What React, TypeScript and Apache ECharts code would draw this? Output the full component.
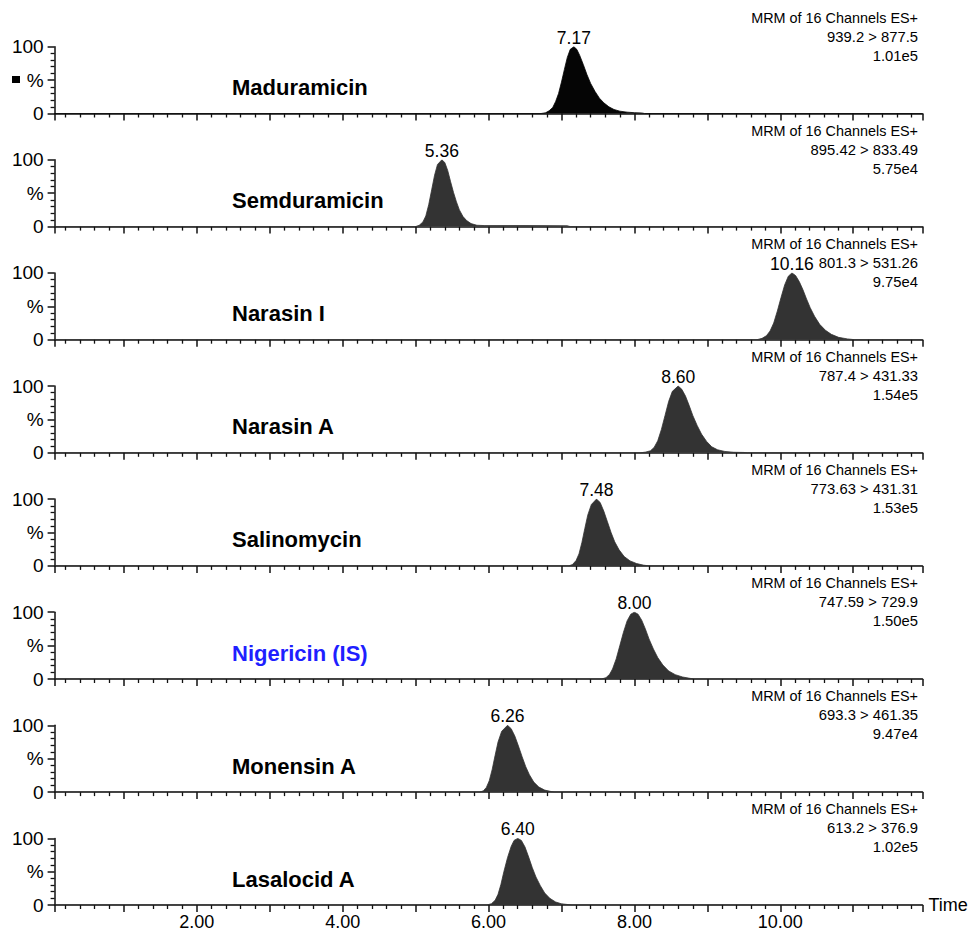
import React, { useEffect, useRef } from 'react';
import * as echarts from 'echarts';

// ---------- data ----------
const compounds = ['Maduramicin', 'Semduramicin', 'Narasin I', 'Narasin A', 'Salinomycin', 'Nigericin (IS)', 'Monensin A', 'Lasalocid A'];
const channelTitle = 'MRM of 16 Channels ES+';
const transitions = ['939.2 > 877.5', '895.42 > 833.49', '801.3 > 531.26', '787.4 > 431.33', '773.63 > 431.31', '747.59 > 729.9', '693.3 > 461.35', '613.2 > 376.9'];
const intensities = ['1.01e5', '5.75e4', '9.75e4', '1.54e5', '1.53e5', '1.50e5', '9.47e4', '1.02e5'];
const peakTimes = [7.17, 5.36, 10.16, 8.6, 7.48, 8.0, 6.26, 6.4];
const peakLabels = ['7.17', '5.36', '10.16', '8.60', '7.48', '8.00', '6.26', '6.40'];
const xLabelValues = [2, 4, 6, 8, 10];
const yLabelValues = [0, 50, 100];
const yLabelTexts = ['0', '%', '100'];

const maduramicin = [[0.05, 0], [6.72, 0], [6.78, 1], [6.83, 4], [6.88, 9], [6.92, 18], [6.96, 30], [7.0, 47], [7.04, 66], [7.08, 84], [7.12, 96], [7.17, 100], [7.21, 96], [7.25, 87], [7.3, 73], [7.35, 58], [7.4, 45], [7.46, 33], [7.52, 23], [7.58, 16], [7.65, 10], [7.72, 6], [7.8, 3.5], [7.9, 2], [8.0, 1.2], [8.1, 0.8], [8.14, 0], [11.95, 0]];
const semduramicin = [[0.05, 0], [5.0, 0], [5.05, 2], [5.1, 7], [5.14, 16], [5.18, 33], [5.22, 55], [5.26, 77], [5.3, 93], [5.36, 100], [5.4, 96], [5.44, 84], [5.48, 67], [5.52, 51], [5.56, 37], [5.6, 25], [5.65, 15], [5.7, 9], [5.76, 4.5], [5.84, 2], [5.95, 1.5], [6.5, 1.6], [7.08, 1.3], [7.12, 0], [11.95, 0]];
const narasinI = [[0.05, 0], [9.68, 0], [9.75, 2], [9.81, 6], [9.86, 13], [9.91, 25], [9.96, 43], [10.01, 63], [10.06, 82], [10.11, 95], [10.16, 100], [10.21, 96], [10.26, 87], [10.31, 75], [10.36, 61], [10.41, 48], [10.47, 35], [10.54, 23], [10.62, 14], [10.7, 8], [10.8, 3.5], [10.92, 1.2], [11.02, 0], [11.95, 0]];
const narasinA = [[0.05, 0], [8.08, 0], [8.15, 1], [8.22, 3], [8.27, 8], [8.32, 18], [8.37, 35], [8.42, 56], [8.47, 77], [8.52, 92], [8.6, 100], [8.65, 95], [8.7, 85], [8.75, 71], [8.8, 56], [8.86, 41], [8.92, 28], [8.99, 17], [9.06, 9], [9.14, 4.5], [9.24, 2], [9.36, 0.8], [9.5, 0.5], [9.55, 0], [11.95, 0]];
const salinomycin = [[0.05, 0], [7.1, 0], [7.15, 2], [7.2, 8], [7.24, 18], [7.28, 35], [7.32, 56], [7.36, 76], [7.41, 92], [7.48, 100], [7.53, 95], [7.58, 82], [7.63, 66], [7.68, 50], [7.73, 36], [7.79, 24], [7.86, 14], [7.94, 7.5], [8.03, 3.5], [8.12, 1.2], [8.2, 0], [11.95, 0]];
const nigericin = [[0.05, 0], [7.55, 0], [7.61, 2], [7.66, 7], [7.7, 15], [7.75, 30], [7.8, 50], [7.85, 70], [7.9, 87], [7.95, 97], [8.0, 100], [8.05, 97], [8.1, 88], [8.15, 75], [8.2, 60], [8.26, 45], [8.32, 32], [8.39, 21], [8.47, 12], [8.56, 6.5], [8.66, 3], [8.76, 1], [8.82, 0], [11.95, 0]];
const monensinA = [[0.05, 0], [5.88, 0], [5.93, 2], [5.97, 7], [6.01, 17], [6.05, 34], [6.09, 55], [6.13, 75], [6.18, 91], [6.26, 100], [6.31, 95], [6.36, 84], [6.41, 69], [6.46, 53], [6.51, 38], [6.56, 26], [6.62, 15], [6.69, 7.5], [6.77, 3], [6.86, 0.8], [6.9, 0], [11.95, 0]];
const lasalocidA = [[0.05, 0], [5.98, 0], [6.04, 2], [6.09, 7], [6.13, 16], [6.17, 31], [6.21, 50], [6.26, 71], [6.31, 88], [6.35, 97], [6.4, 100], [6.45, 97], [6.5, 87], [6.55, 72], [6.6, 56], [6.65, 42], [6.71, 29], [6.77, 18], [6.84, 10], [6.92, 4.5], [7.0, 1.8], [7.1, 0.5], [7.14, 0], [11.95, 0]];

const traces = [maduramicin, semduramicin, narasinI, narasinA, salinomycin, nigericin, monensinA, lasalocidA];

// ---------- styles / layout ----------
const FONT = '"Liberation Sans", Arial, Helvetica, sans-serif';
const fillColors = ['#050505', '#333333', '#333333', '#333333', '#333333', '#333333', '#333333', '#333333'];
const nameColors = ['#000', '#000', '#000', '#000', '#000', '#1f1fff', '#000', '#000'];
const PANEL_TOP = 46.7;
const PANEL_STEP = 113.1;
const PANEL_H = 66.8;
const GRID_LEFT = 54.6;
const GRID_RIGHT_X = 922.5;
const W = 975;
const H = 931;
const TEXT_RIGHT = 918;
const AX = '#111';

function buildOption() {
  const n = compounds.length;
  const grids: any[] = [];
  const xAxes: any[] = [];
  const yAxes: any[] = [];
  const series: any[] = [];
  const graphics: any[] = [];

  for (let i = 0; i < n; i++) {
    const top = PANEL_TOP + PANEL_STEP * i;
    const bottom = top + PANEL_H;
    const last = i === n - 1;
    grids.push({ left: GRID_LEFT, width: GRID_RIGHT_X - GRID_LEFT, top, height: PANEL_H, containLabel: false });
    xAxes.push({
      type: 'value',
      gridIndex: i,
      min: 0.05,
      max: 11.95,
      splitNumber: 12,
      minInterval: 1,
      maxInterval: 1,
      axisLine: { show: true, onZero: false, lineStyle: { color: AX, width: 1.5 } },
      axisTick: { show: true, length: 7, lineStyle: { color: AX, width: 1.5 } },
      minorTick: { show: true, splitNumber: 5, length: 4, lineStyle: { color: AX, width: 1.3 } },
      splitLine: { show: false },
      minorSplitLine: { show: false },
      axisLabel: {
        show: last,
        margin: 8,
        fontSize: 18,
        fontFamily: FONT,
        color: '#000',
        showMinLabel: false,
        showMaxLabel: false,
        formatter: (v: number) => {
          const k = xLabelValues.findIndex((x) => Math.abs(x - v) < 1e-6);
          return k >= 0 ? xLabelValues[k].toFixed(2) : '';
        },
      },
      name: last ? 'Time' : '',
      nameLocation: 'end',
      nameGap: 6,
      nameTextStyle: { fontSize: 18, fontFamily: FONT, color: '#000', verticalAlign: 'middle' },
    });
    yAxes.push({
      type: 'value',
      gridIndex: i,
      min: 0,
      max: 100,
      interval: 50,
      axisLine: { show: true, lineStyle: { color: AX, width: 1.5 } },
      axisTick: { show: true, length: 7, lineStyle: { color: AX, width: 1.5 } },
      minorTick: { show: true, splitNumber: 5, length: 4, lineStyle: { color: AX, width: 1.3 } },
      splitLine: { show: false },
      minorSplitLine: { show: false },
      axisLabel: {
        margin: 11,
        fontSize: 19,
        fontFamily: FONT,
        color: '#000',
        formatter: (v: number) => {
          const k = yLabelValues.indexOf(v);
          return k >= 0 ? yLabelTexts[k] : '';
        },
      },
    });
    series.push({
      type: 'line',
      name: compounds[i],
      xAxisIndex: i,
      yAxisIndex: i,
      data: traces[i],
      smooth: false,
      symbol: 'none',
      showSymbol: false,
      silent: true,
      lineStyle: { color: fillColors[i], width: 0.8 },
      areaStyle: { color: fillColors[i], opacity: 1 },
      z: 1,
      markPoint: {
        symbol: 'circle',
        symbolSize: 0,
        silent: true,
        data: [{ coord: [peakTimes[i], 100], value: peakLabels[i] }],
        label: {
          show: true,
          position: 'inside',
          offset: [0, -9],
          formatter: () => peakLabels[i],
          fontSize: 17.5,
          fontFamily: FONT,
          color: '#000',
        },
      },
    });

    // compound name
    graphics.push({
      type: 'text',
      x: 232,
      y: bottom - 26,
      style: { text: compounds[i], fontSize: 22, fontWeight: 'bold', fontFamily: FONT, fill: nameColors[i], verticalAlign: 'middle' },
    });
    // channel info (right aligned)
    const info = [channelTitle, transitions[i], intensities[i]];
    const offs = [-29, -10, 9];
    const sizes = [14.4, 14.8, 14.8];
    info.forEach((t, k) => {
      graphics.push({
        type: 'text',
        x: TEXT_RIGHT,
        y: top + offs[k],
        style: { text: t, fontSize: sizes[k], fontFamily: FONT, fill: '#000', align: 'right', verticalAlign: 'middle' },
      });
    });
  }
  // small black marker next to the first "%" label
  graphics.push({ type: 'rect', shape: { x: 12, y: 76, width: 8, height: 7 }, style: { fill: '#000' } });

  return {
    animation: false,
    backgroundColor: '#ffffff',
    grid: grids,
    xAxis: xAxes,
    yAxis: yAxes,
    series,
    graphic: graphics,
  };
}

export default function App() {
  const ref = useRef<HTMLDivElement>(null);
  useEffect(() => {
    if (!ref.current) return;
    const chart = echarts.init(ref.current, undefined, { renderer: 'svg', width: W, height: H });
    chart.setOption(buildOption() as any);
    return () => chart.dispose();
  }, []);
  return <div ref={ref} style={{ position: 'fixed', left: 0, top: 0, width: W, height: H, background: '#fff' }} />;
}
